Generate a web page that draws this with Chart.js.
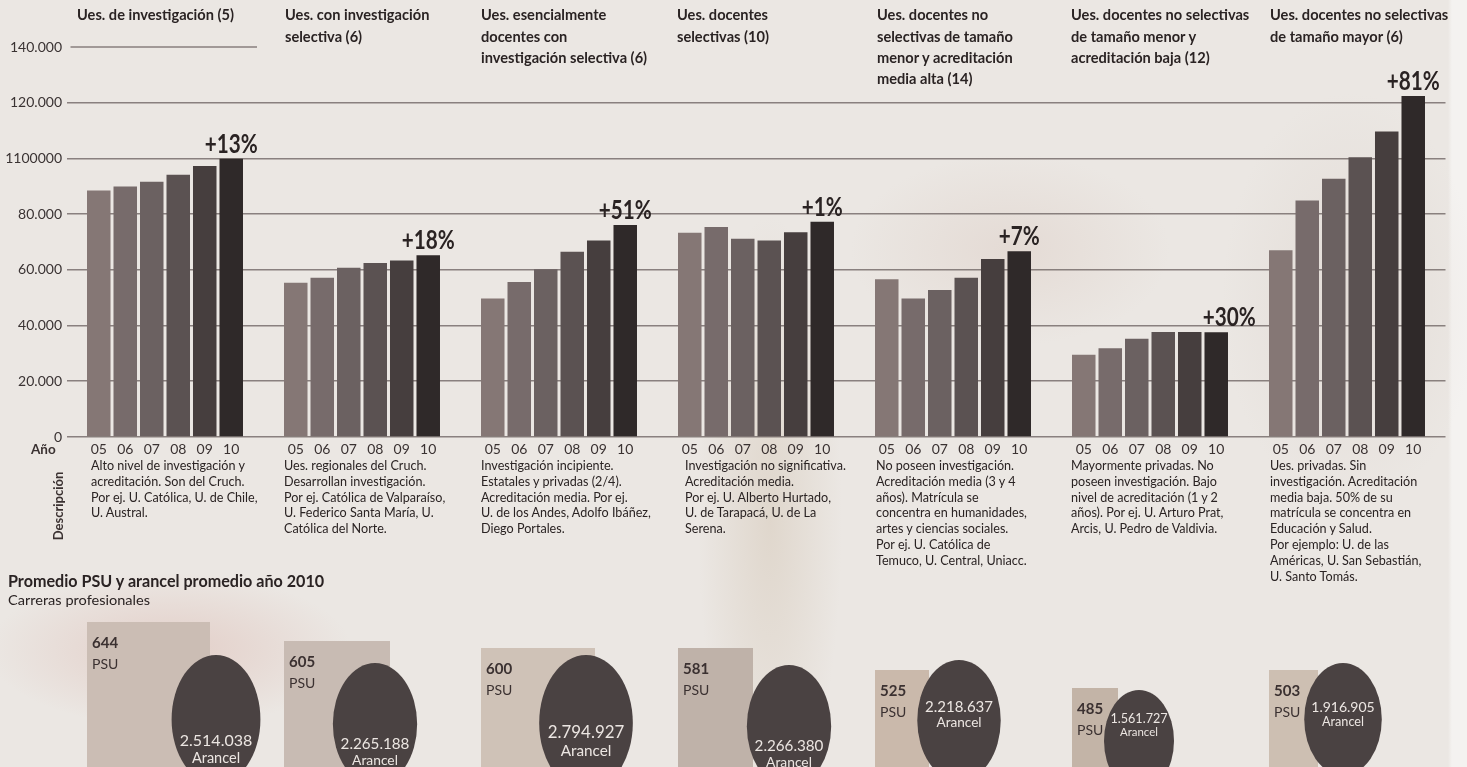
<!DOCTYPE html>
<html>
<head>
<meta charset="utf-8">
<script src="https://cdn.jsdelivr.net/npm/chart.js@4.4.1/dist/chart.umd.min.js"></script>
<style>
html,body{margin:0;padding:0;}
body{
	width:1467px;height:767px;overflow:hidden;position:relative;
	background-color:#ebe7e3;
	background-image:
		radial-gradient(ellipse 260px 110px at 170px 650px, rgba(214,168,158,0.40), rgba(214,168,158,0) 70%),
		radial-gradient(ellipse 90px 380px at 770px 520px, rgba(206,190,170,0.40), rgba(206,190,170,0) 80%),
		radial-gradient(ellipse 200px 120px at 1010px 250px, rgba(215,195,185,0.35), rgba(215,195,185,0) 80%),
		radial-gradient(ellipse 160px 260px at 1350px 300px, rgba(212,200,192,0.35), rgba(212,200,192,0) 80%),
		linear-gradient(90deg, rgba(0,0,0,0) 1448px, #f4f2f0 1452px);
	font-family:Lato,"Liberation Sans",sans-serif;
	color:#2a2323;
}
#wrap{position:absolute;left:0;top:0;width:1467px;height:767px;}
.titulo{position:absolute;top:4.4px;font-weight:bold;font-size:14.5px;line-height:21.3px;white-space:nowrap;transform-origin:0 0;}
.desc{position:absolute;top:458px;font-size:13px;line-height:15.8px;white-space:nowrap;transform-origin:0 0;}
.lbl{position:absolute;white-space:nowrap;transform-origin:0 0;}
</style>
</head>
<body>
<div id="wrap"><canvas id="myChart" width="1467" height="767"></canvas></div>
<div class="lbl" style="left:31px;top:441px;font-size:13.5px;font-weight:bold;color:#3a3131">Año</div>
<div class="lbl" style="left:16px;top:498px;width:84px;text-align:center;font-size:13px;font-weight:bold;color:#3a3131;transform:rotate(-90deg);transform-origin:center">Descripción</div>
<div class="lbl" id="promedio" style="left:8px;top:570px;font-size:17px;font-weight:bold">Promedio PSU y arancel promedio año 2010</div>
<div class="lbl" id="carreras" style="left:8px;top:591px;font-size:14px">Carreras profesionales</div>
<script>
var titulos=[
	["Ues. de investigación (5)"],
	["Ues. con investigación","selectiva (6)"],
	["Ues. esencialmente","docentes con","investigación selectiva (6)"],
	["Ues. docentes","selectivas (10)"],
	["Ues. docentes no","selectivas de tamaño","menor y acreditación","media alta (14)"],
	["Ues. docentes no selectivas","de tamaño menor y","acreditación baja (12)"],
	["Ues. docentes no selectivas","de tamaño mayor (6)"]
];
var anios=["05","06","07","08","09","10"];

// matricula por año 2005-2010
var investigacion=[88500,89900,91600,94100,97300,99900];
var invSelectiva=[55400,57200,60800,62500,63400,65200];
var esencialmenteDocentes=[49700,55600,60200,66500,70500,76100];
var docentesSelectivas=[73300,75400,71200,70500,73500,77300];
var noSelMenorMediaAlta=[56600,49700,52800,57200,63900,66700];
var noSelMenorBaja=[29500,31900,35300,37700,37700,37600];
var noSelMayor=[67000,84900,92700,100400,109700,122400];

var variacion=["+13%","+18%","+51%","+1%","+7%","+30%","+81%"];
var yTickLabels=["0","20.000","40.000","60.000","80.000","1100000","120.000","140.000"];

var psu=[644,605,600,581,525,485,503];
var arancel=[2514038,2265188,2794927,2266380,2218637,1561727,1916905];

var descripciones=[
	["Alto nivel de investigación y","acreditación. Son del Cruch.","Por ej. U. Católica, U. de Chile,","U. Austral."],
	["Ues. regionales del Cruch.","Desarrollan investigación.","Por ej. Católica de Valparaíso,","U. Federico Santa María, U.","Católica del Norte."],
	["Investigación incipiente.","Estatales y privadas (2/4).","Acreditación media. Por ej.","U. de los Andes, Adolfo Ibáñez,","Diego Portales."],
	["Investigación no significativa.","Acreditación media.","Por ej. U. Alberto Hurtado,","U. de Tarapacá, U. de La","Serena."],
	["No poseen investigación.","Acreditación media (3 y 4","años). Matrícula se","concentra en humanidades,","artes y ciencias sociales.","Por ej.  U. Católica de","Temuco, U. Central, Uniacc."],
	["Mayormente privadas. No","poseen investigación. Bajo","nivel de acreditación (1 y 2","años). Por ej. U. Arturo Prat,","Arcis, U. Pedro de Valdivia."],
	["Ues. privadas. Sin","investigación. Acreditación","media baja. 50% de su","matrícula se concentra en","Educación y Salud.","Por ejemplo: U. de las","Américas, U. San Sebastián,","U. Santo Tomás."]
];

var grupos=[investigacion,invSelectiva,esencialmenteDocentes,docentesSelectivas,noSelMenorMediaAlta,noSelMenorBaja,noSelMayor];
var coloresAnio=["#857775","#776b6b","#6b6161","#5b5252","#463e3e","#2f2929"];
var gridColor="rgba(112,102,101,0.8)";

// layout de la parte inferior
var cajaAncho=[123,106,114,75,54,46,49];
var cajaTope=[622,641,648,648,670,688,670];
var cajaColor=["#cbbdb4","#c8bbb3","#cfc2b7","#bfb2a9","#cab9ab","#c3b4a7","#cdbfb2"];
var circOffset=[129,91,105,111,84,67,74];
var circTope=[655,663,655,665,660,690,663];
var circTexto=[741,744,733,746,707,719,707];

var medidor=document.createElement("canvas").getContext("2d");
function escala(texto,font,ancho){medidor.font=font;return ancho/medidor.measureText(texto).width;}
var sTit=escala("Ues. de investigación (5)","bold 14.5px Lato",157);
var sDesc=escala("Por ej. Católica de Valparaíso,","13px Lato",162);
var sPct=escala("+13%","bold 27px Lato",53);

function puntos(n){return String(n).replace(/\B(?=(\d{3})+(?!\d))/g,".");}

var datasets=[];
for(var i=0;i<anios.length;i++){
	var d=[];
	for(var g=0;g<grupos.length;g++){d.push(grupos[g][i]);}
	datasets.push({label:anios[i],data:d,backgroundColor:coloresAnio[i],categoryPercentage:0.807,barPercentage:0.887});
}

var extras={
	id:"extras",
	beforeDatasetsDraw:function(chart){
		var ctx=chart.ctx,x=chart.scales.x,y=chart.scales.y;
		var yy=y.getPixelForValue(140000);
		ctx.save();
		ctx.strokeStyle=gridColor;ctx.lineWidth=1.6;
		ctx.beginPath();ctx.moveTo(x.left+4,yy);ctx.lineTo(x.getPixelForValue(0)+92,yy);ctx.stroke();
		ctx.restore();
	},
	afterDatasetsDraw:function(chart){
		var ctx=chart.ctx;
		ctx.save();
		// años bajo cada barra
		ctx.font="14px Lato";
		ctx.fillStyle="#3a3232";
		ctx.textAlign="center";ctx.textBaseline="middle";
		for(var i=0;i<anios.length;i++){
			chart.getDatasetMeta(i).data.forEach(function(bar){
				ctx.fillText(anios[i],bar.x,449);
			});
		}
		// variacion sobre la ultima barra
		ctx.font="bold 27px Lato";
		ctx.fillStyle="#2a2323";
		ctx.textBaseline="alphabetic";
		var ultimos=chart.getDatasetMeta(anios.length-1).data;
		ultimos.forEach(function(bar,g){
			ctx.save();
			ctx.translate(bar.x+(g==5?13:0),bar.y-6);
			ctx.scale(sPct,1);
			ctx.fillText(variacion[g],0,0);
			ctx.restore();
		});
		// PSU y arancel
		var primeros=chart.getDatasetMeta(0).data;
		primeros.forEach(function(bar,g){
			var left=bar.x-bar.width/2;
			ctx.fillStyle=cajaColor[g];
			ctx.fillRect(left,cajaTope[g],cajaAncho[g],767-cajaTope[g]);
			ctx.textAlign="left";ctx.textBaseline="middle";
			ctx.fillStyle="#3b3131";
			ctx.font="bold 15px Lato";
			ctx.fillText(psu[g],left+5,cajaTope[g]+21);
			ctx.font="14px Lato";
			ctx.fillText("PSU",left+5,cajaTope[g]+42);
			var rx=35*Math.sqrt(arancel[g]/arancel[5]);
			var ry=rx*1.45;
			var cx=left+circOffset[g];
			ctx.fillStyle="#4a4242";
			ctx.beginPath();ctx.ellipse(cx,circTope[g]+ry,rx,ry,0,0,Math.PI*2);ctx.fill();
			ctx.fillStyle="#ece6e2";ctx.textAlign="center";
			var f=rx/44.4;
			ctx.font=(16*f).toFixed(1)+"px Lato";
			ctx.fillText(puntos(arancel[g]),cx,circTexto[g]);
			ctx.font=(14.5*f).toFixed(1)+"px Lato";
			ctx.fillText("Arancel",cx,circTexto[g]+17*f);
		});
		ctx.restore();
	}
};

var myChart=document.getElementById("myChart").getContext("2d");
var chart=new Chart(myChart,{
	type:"bar",
	data:{labels:titulos.map(function(t){return t.join(" ");}),datasets:datasets},
	options:{
		responsive:false,
		animation:false,
		layout:{padding:{left:0,right:21.5,top:47,bottom:330}},
		plugins:{legend:{display:false},tooltip:{enabled:false}},
		scales:{
			x:{display:false},
			y:{
				min:0,max:140000,
				afterFit:function(s){s.width=66.5;},
				border:{display:false},
				grid:{
					color:function(c){return c.tick&&c.tick.value==140000?"rgba(0,0,0,0)":gridColor;},
					lineWidth:1.6,drawTicks:false
				},
				ticks:{
					stepSize:20000,padding:4.5,color:"#3a3333",
					font:{family:"Lato",size:14},
					callback:function(v,i){return yTickLabels[i];}
				}
			}
		}
	},
	plugins:[extras]
});

var tx=[77,285,481,677,877,1071,1270];
var dx=[91,284,481,685,876,1071,1270];
for(var g=0;g<titulos.length;g++){
	var t=document.createElement("div");
	t.className="titulo";t.style.left=tx[g]+"px";
	t.style.transform="scaleX("+sTit+")";
	t.innerHTML=titulos[g].join("<br>");
	document.body.appendChild(t);
	var d=document.createElement("div");
	d.className="desc";d.style.left=dx[g]+"px";
	d.style.transform="scaleX("+sDesc+")";
	d.innerHTML=descripciones[g].join("<br>");
	document.body.appendChild(d);
}
document.getElementById("promedio").style.transform="scaleX("+escala("Promedio PSU y arancel promedio año 2010","bold 17px Lato",317)+")";
document.getElementById("carreras").style.transform="scaleX("+escala("Carreras profesionales","14px Lato",142)+")";
</script>
</body>
</html>
